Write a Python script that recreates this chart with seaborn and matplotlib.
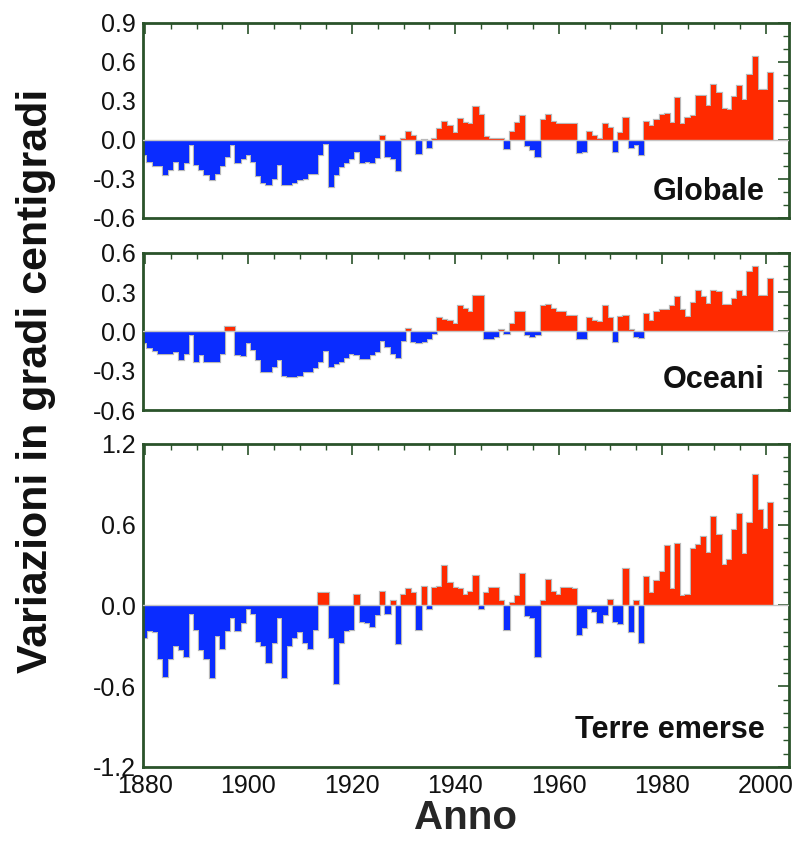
import numpy as np
import pandas as pd
import matplotlib
matplotlib.use('Agg')
import matplotlib.pyplot as plt
import seaborn as sns
from matplotlib.ticker import MultipleLocator, FormatStrFormatter

anni = list(range(1880, 2002))

# anomalie annue (gradi centigradi)
globale = [
    -0.12, -0.17, -0.20, -0.20, -0.27, -0.23, -0.17, -0.23, -0.18, -0.04,
    -0.19, -0.23, -0.27, -0.31, -0.26, -0.20, -0.13, -0.04, -0.18, -0.15,
    -0.12, -0.17, -0.28, -0.33, -0.35, -0.30, -0.19, -0.35, -0.35, -0.33,
    -0.31, -0.30, -0.26, -0.26, -0.12, -0.03, -0.36, -0.27, -0.21, -0.18,
    -0.15, -0.09, -0.18, -0.17, -0.18, -0.14, 0.03, -0.13, -0.15, -0.24,
    0.01, 0.06, 0.03, -0.11, 0.00, -0.06, 0.01, 0.08, 0.14, 0.11,
    0.05, 0.16, 0.13, 0.12, 0.25, 0.19, 0.02, 0.01, 0.01, 0.01,
    -0.07, 0.06, 0.13, 0.18, -0.05, -0.08, -0.13, 0.15, 0.19, 0.14,
    0.12, 0.12, 0.12, 0.12, -0.10, -0.09, 0.06, 0.03, 0.01, 0.12,
    0.09, -0.09, 0.05, 0.17, -0.06, -0.04, -0.12, 0.14, 0.11, 0.15,
    0.19, 0.20, 0.13, 0.32, 0.12, 0.17, 0.18, 0.34, 0.34, 0.26,
    0.42, 0.36, 0.24, 0.23, 0.33, 0.41, 0.31, 0.50, 0.64, 0.38,
    0.38, 0.51,
]

oceani = [
    -0.09, -0.13, -0.15, -0.17, -0.17, -0.17, -0.16, -0.22, -0.17, -0.03,
    -0.23, -0.18, -0.23, -0.23, -0.23, -0.17, 0.03, 0.03, -0.18, -0.19,
    -0.09, -0.14, -0.22, -0.31, -0.31, -0.27, -0.22, -0.34, -0.35, -0.35,
    -0.34, -0.31, -0.31, -0.28, -0.23, -0.15, -0.27, -0.25, -0.23, -0.20,
    -0.17, -0.18, -0.21, -0.21, -0.18, -0.16, -0.07, -0.12, -0.17, -0.20,
    -0.07, 0.02, -0.08, -0.09, -0.08, -0.06, -0.02, 0.10, 0.09, 0.08,
    0.06, 0.19, 0.17, 0.15, 0.27, 0.27, -0.06, -0.06, -0.04, 0.01,
    -0.02, 0.06, 0.15, 0.15, -0.03, -0.04, -0.03, 0.19, 0.20, 0.17,
    0.15, 0.15, 0.12, 0.12, -0.06, -0.06, 0.10, 0.08, 0.07, 0.19,
    0.10, -0.08, 0.11, 0.12, 0.01, -0.04, -0.05, 0.13, 0.08, 0.15,
    0.16, 0.16, 0.19, 0.26, 0.16, 0.11, 0.22, 0.31, 0.26, 0.21,
    0.31, 0.30, 0.20, 0.20, 0.25, 0.31, 0.27, 0.45, 0.49, 0.27,
    0.27, 0.40,
]

terre = [
    -0.24, -0.19, -0.20, -0.40, -0.53, -0.40, -0.30, -0.33, -0.38, -0.06,
    -0.18, -0.33, -0.40, -0.54, -0.23, -0.32, -0.19, -0.09, -0.19, -0.13,
    -0.03, -0.06, -0.27, -0.30, -0.43, -0.28, -0.09, -0.54, -0.30, -0.24,
    -0.20, -0.28, -0.32, -0.18, 0.09, 0.09, -0.24, -0.58, -0.28, -0.19,
    -0.18, 0.08, -0.12, -0.13, -0.16, -0.07, 0.10, -0.06, 0.03, -0.29,
    0.08, 0.12, 0.09, -0.18, 0.14, -0.03, 0.13, 0.14, 0.29, 0.17,
    0.13, 0.12, 0.08, 0.10, 0.22, -0.03, 0.09, 0.13, 0.13, 0.03,
    -0.18, 0.02, 0.07, 0.23, -0.08, -0.09, -0.38, 0.03, 0.19, 0.10,
    0.08, 0.13, 0.13, 0.12, -0.22, -0.17, -0.03, -0.05, -0.13, -0.07,
    0.04, -0.12, -0.14, 0.27, -0.20, 0.03, -0.28, 0.21, 0.09, 0.18,
    0.25, 0.44, 0.12, 0.46, 0.07, 0.08, 0.42, 0.45, 0.51, 0.39,
    0.66, 0.52, 0.30, 0.34, 0.56, 0.68, 0.38, 0.61, 0.97, 0.71,
    0.57, 0.76,
]

pannelli = [
    ('Globale', globale, (-0.6, 0.9), 0.3),
    ('Oceani', oceani, (-0.6, 0.6), 0.3),
    ('Terre emerse', terre, (-1.2, 1.2), 0.6),
]

ROSSO = '#ff2a00'
BLU = '#0a2cff'
VERDE = '#2a532a'

sns.set_theme(style='white')
plt.rcParams['font.family'] = ['Liberation Sans', 'DejaVu Sans']
plt.rcParams['axes.unicode_minus'] = False

fig = plt.figure(figsize=(8.01, 8.43), dpi=100)

# posizioni degli assi in frazioni di figura (left, bottom, width, height)
posizioni = [
    (0.1780, 0.7414, 0.8065, 0.2317),
    (0.1780, 0.5136, 0.8065, 0.1866),
    (0.1780, 0.0902, 0.8065, 0.3832),
]
testo_y = [0.09, 0.14, 0.09]

bordi = np.arange(1879.5, 2002.5, 1.0)

for i, (nome, valori, ylim, passo) in enumerate(pannelli):
    ax = fig.add_axes(posizioni[i])
    df = pd.DataFrame({'anno': anni, 'valore': valori})
    df['segno'] = np.where(df['valore'] >= 0, 'pos', 'neg')

    sns.barplot(data=df, x='anno', y='valore', hue='segno', hue_order=['neg', 'pos'],
                palette={'neg': BLU, 'pos': ROSSO}, native_scale=True, width=1,
                dodge=False, saturation=1, legend=False, errorbar=None,
                linewidth=0, ax=ax)

    # alone grigio attorno al profilo, come nell'originale
    ax.stairs(valori, bordi, baseline=0, color='#b8b8b8', lw=1.6, zorder=0.5)
    ax.axhline(0, color='#c4c4c4', lw=1.0, zorder=3)

    ax.set_xlim(1879.55, 2004.45)
    ax.set_ylim(*ylim)
    ax.set_xlabel('')
    ax.set_ylabel('')

    ax.xaxis.set_major_locator(MultipleLocator(20))
    ax.xaxis.set_minor_locator(MultipleLocator(5))
    ax.yaxis.set_major_locator(MultipleLocator(passo))
    ax.yaxis.set_minor_locator(MultipleLocator(0.1))
    ax.yaxis.set_major_formatter(FormatStrFormatter('%.1f'))

    ax.tick_params(which='both', direction='in', top=True, right=True,
                   color=VERDE, labelcolor='#111111', labelsize=18)
    ax.tick_params(which='major', length=8, width=1.2, pad=5)
    ax.tick_params(which='minor', length=4, width=1.0)
    if i < 2:
        ax.tick_params(labelbottom=False)
    for sp in ax.spines.values():
        sp.set_color(VERDE)
        sp.set_linewidth(2)

    ax.text(0.963, testo_y[i], nome, transform=ax.transAxes, ha='right',
            va='baseline', fontsize=22, fontweight='bold', color='#111111')

    if i == 2:
        ax.set_xlabel('Anno', fontsize=29, fontweight='bold', labelpad=1)

fig.text(0.045, 0.548, 'Variazioni in gradi centigradi', rotation=90,
         ha='center', va='center', fontsize=31, fontweight='bold', color='#111111')

fig.savefig('out.png', dpi=100)
